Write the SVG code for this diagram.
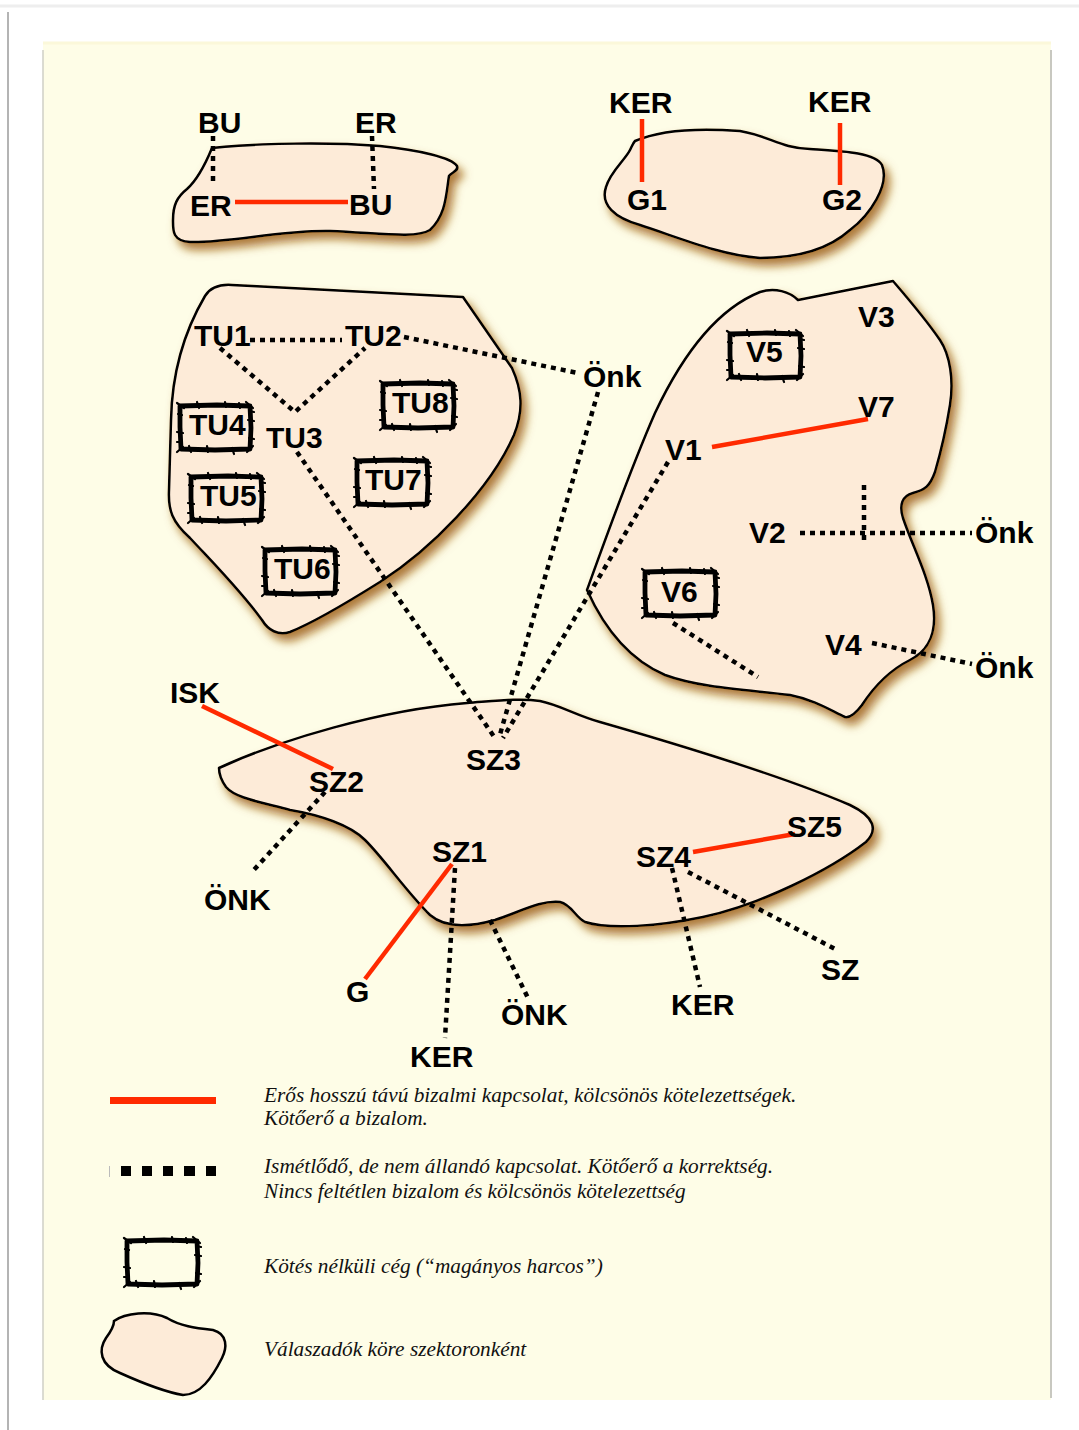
<svg xmlns="http://www.w3.org/2000/svg" width="1079" height="1430" viewBox="0 0 1079 1430">
  <defs>
    <style>
      .lbl { font-family: "Liberation Sans", Arial, sans-serif; font-weight: bold; font-size: 30px; fill: #000; }
      .leg { font-family: "Liberation Serif", "Times New Roman", serif; font-style: italic; font-size: 21.3px; fill: #111; }
      .sector { fill: #FDEBD8; stroke: #000; stroke-width: 2.5; stroke-linejoin: round; }
      .strong { stroke: #FF2A00; stroke-width: 4.5; fill: none; }
      .weak { stroke: #000; stroke-width: 4.5; stroke-dasharray: 5 5; fill: none; }
    </style>
    <filter id="glow" x="-10%" y="-10%" width="130%" height="130%">
      <feDropShadow dx="5" dy="7" stdDeviation="5" flood-color="#9A5A0E" flood-opacity="0.8"/>
    </filter>
    <!-- ragged frame used for isolated firms -->
    <g id="rough">
      <path d="M3,4 L40,3 L73,4 L74,26 L73,47 L38,48 L4,47 L3,25 Z" fill="none" stroke="#000" stroke-width="4.8" stroke-linejoin="round"/>
      <path d="M0,1 L7,6 M69,0 L76,6 M0,50 L6,45 M70,50 L76,44 M20,0 L22,6 M55,46 L57,52 M0,30 L6,31 M71,18 L77,19 M30,44 L31,50 M48,0 L49,5 M1,12 L5,13 M72,36 L77,37 M12,44 L14,50 M62,1 L63,6 M0,40 L5,40 M72,9 L77,10" stroke="#000" stroke-width="2.2" stroke-linecap="round"/>
    </g>
  </defs>

  <!-- page and panel -->
  <rect x="0" y="0" width="1079" height="1430" fill="#FFFFFF"/>
  <line x1="0" y1="6" x2="1079" y2="6" stroke="#EEEEEE" stroke-width="3"/>
  <line x1="8" y1="12" x2="8" y2="1430" stroke="#B4B4B4" stroke-width="2"/>
  <rect x="43" y="43" width="1008" height="1357" fill="#FEFDE7"/>
  <line x1="43" y1="43" x2="1051" y2="43" stroke="#FBF8DA" stroke-width="3"/>
  <line x1="43" y1="50" x2="43" y2="1400" stroke="#CFCFC6" stroke-width="1.5"/>
  <line x1="1051" y1="50" x2="1051" y2="1398" stroke="#C8C8C0" stroke-width="2"/>

  <!-- sector outlines -->
  <g id="sectors" filter="url(#glow)">
    <path id="sector-bu-er" class="sector" d="M212,148 C260,143 330,142 380,146 C420,150 452,158 457,166 C459,171 452,172 449,176 C446,195 446,215 430,230 C415,239 380,233 330,231 C280,230 230,243 190,242 C172,241 173,230 173,220 C173,205 177,197 187,189 C197,180 205,165 212,148 Z"/>
    <path id="sector-g" class="sector" d="M635,141 C660,130 700,128 740,131 C770,136 780,148 810,149 C840,151 875,152 882,165 C890,185 870,215 850,230 C830,248 800,258 760,258 C720,255 680,238 640,225 C615,218 600,205 606,187 C610,172 625,160 630,150 C632,146 633,143 635,141 Z"/>
    <path id="sector-tu" class="sector" d="M205,296 C210,288 218,284 232,285 L463,297 L512,368 C522,390 524,410 514,435 C490,490 430,550 380,582 C345,604 310,624 290,632 C278,636 268,630 262,620 C240,590 215,565 190,538 C172,522 168,510 169,490 L171,420 C172,370 185,330 205,296 Z"/>
    <path id="sector-v" class="sector" d="M893,281 C905,295 925,318 940,340 C950,355 954,380 950,405 C946,430 940,455 935,472 C930,486 925,490 913,493 C902,496 899,505 903,518 C912,545 928,575 933,605 C937,630 930,650 910,660 C890,670 875,685 862,705 C856,713 850,718 845,717 C830,710 815,700 790,695 C750,690 700,688 665,675 C630,660 605,630 587,590 C605,540 630,470 655,413 C680,360 715,310 760,292 C775,287 790,292 798,300 L893,281 Z"/>
    <path id="sector-sz" class="sector" d="M219,768 C280,740 380,710 467,703 C495,701 520,698 540,701 C560,705 575,715 600,722 C680,745 780,775 850,805 C875,817 878,830 866,842 C830,870 760,905 703,917 C660,926 610,930 585,922 C575,917 572,905 560,902 C540,900 520,912 495,920 C470,927 445,928 430,915 C405,890 385,860 365,840 C350,825 320,815 290,810 C260,802 235,798 226,787 C221,780 219,773 219,768 Z"/>
  </g>

  <!-- ties -->
  <g id="connectors">
    <line class="strong" x1="235" y1="202" x2="348" y2="202"/>
    <line class="strong" x1="642" y1="119" x2="642" y2="182"/>
    <line class="strong" x1="840" y1="123" x2="840" y2="185"/>
    <line class="strong" x1="712" y1="447" x2="868" y2="419"/>
    <line class="strong" x1="202" y1="706" x2="333" y2="769"/>
    <line class="strong" x1="452" y1="864" x2="365" y2="979"/>
    <line class="strong" x1="693" y1="852" x2="795" y2="834"/>

    <line class="weak" x1="213" y1="136" x2="213" y2="183"/>
    <line class="weak" x1="372" y1="136" x2="374" y2="189"/>
    <line class="weak" x1="250" y1="340" x2="342" y2="340"/>
    <polyline class="weak" points="220,348 295,412 365,348"/>
    <line class="weak" x1="404" y1="337" x2="578" y2="373"/>
    <line class="weak" x1="297" y1="452" x2="495" y2="738"/>
    <line class="weak" x1="598" y1="392" x2="499" y2="738"/>
    <line class="weak" x1="668" y1="462" x2="503" y2="738"/>
    <line class="weak" x1="800" y1="533" x2="972" y2="533"/>
    <line class="weak" x1="864" y1="485" x2="864" y2="540"/>
    <line class="weak" x1="872" y1="643" x2="972" y2="664"/>
    <line class="weak" x1="673" y1="623" x2="758" y2="677"/>
    <line class="weak" x1="325" y1="792" x2="252" y2="872"/>
    <line class="weak" x1="455" y1="868" x2="445" y2="1038"/>
    <line class="weak" x1="490" y1="920" x2="528" y2="998"/>
    <line class="weak" x1="672" y1="868" x2="700" y2="987"/>
    <line class="weak" x1="688" y1="872" x2="837" y2="950"/>
  </g>

  <!-- actors: BU / ER sector -->
  <g id="n-bu-top"><text class="lbl" x="198" y="133">BU</text></g>
  <g id="n-er-top"><text class="lbl" x="355" y="133">ER</text></g>
  <g id="n-er"><text class="lbl" x="190" y="216">ER</text></g>
  <g id="n-bu"><text class="lbl" x="349" y="215">BU</text></g>

  <!-- G sector -->
  <g id="n-ker-1"><text class="lbl" x="609" y="113">KER</text></g>
  <g id="n-ker-2"><text class="lbl" x="808" y="112">KER</text></g>
  <g id="n-g1"><text class="lbl" x="627" y="210">G1</text></g>
  <g id="n-g2"><text class="lbl" x="822" y="210">G2</text></g>

  <!-- TU sector -->
  <g id="n-tu1"><text class="lbl" x="194" y="346">TU1</text></g>
  <g id="n-tu2"><text class="lbl" x="345" y="346">TU2</text></g>
  <g id="n-tu3"><text class="lbl" x="266" y="448">TU3</text></g>
  <g id="n-tu4"><use href="#rough" x="177" y="402"/><text class="lbl" x="189" y="435">TU4</text></g>
  <g id="n-tu5"><use href="#rough" x="188" y="473"/><text class="lbl" x="200" y="506">TU5</text></g>
  <g id="n-tu6"><use href="#rough" x="262" y="546"/><text class="lbl" x="274" y="579">TU6</text></g>
  <g id="n-tu7"><use href="#rough" x="354" y="457"/><text class="lbl" x="365" y="490">TU7</text></g>
  <g id="n-tu8"><use href="#rough" x="380" y="380"/><text class="lbl" x="392" y="413">TU8</text></g>
  <g id="n-onk-tu"><text class="lbl" x="583" y="387">Önk</text></g>

  <!-- V sector -->
  <g id="n-v3"><text class="lbl" x="858" y="327">V3</text></g>
  <g id="n-v5"><use href="#rough" x="727" y="330"/><text class="lbl" x="746" y="362">V5</text></g>
  <g id="n-v7"><text class="lbl" x="858" y="417">V7</text></g>
  <g id="n-v1"><text class="lbl" x="665" y="460">V1</text></g>
  <g id="n-v2"><text class="lbl" x="749" y="543">V2</text></g>
  <g id="n-onk-v2"><text class="lbl" x="975" y="543">Önk</text></g>
  <g id="n-v6"><use href="#rough" x="642" y="568"/><text class="lbl" x="661" y="602">V6</text></g>
  <g id="n-v4"><text class="lbl" x="825" y="655">V4</text></g>
  <g id="n-onk-v4"><text class="lbl" x="975" y="678">Önk</text></g>

  <!-- SZ sector -->
  <g id="n-isk"><text class="lbl" x="170" y="703">ISK</text></g>
  <g id="n-sz2"><text class="lbl" x="309" y="792">SZ2</text></g>
  <g id="n-sz3"><text class="lbl" x="466" y="770">SZ3</text></g>
  <g id="n-sz1"><text class="lbl" x="432" y="862">SZ1</text></g>
  <g id="n-sz4"><text class="lbl" x="636" y="867">SZ4</text></g>
  <g id="n-sz5"><text class="lbl" x="787" y="837">SZ5</text></g>
  <g id="n-onk-sz2"><text class="lbl" x="204" y="910">ÖNK</text></g>
  <g id="n-g"><text class="lbl" x="346" y="1002">G</text></g>
  <g id="n-ker-sz1"><text class="lbl" x="410" y="1067">KER</text></g>
  <g id="n-onk-sz"><text class="lbl" x="501" y="1025">ÖNK</text></g>
  <g id="n-ker-sz4"><text class="lbl" x="671" y="1015">KER</text></g>
  <g id="n-sz"><text class="lbl" x="821" y="980">SZ</text></g>

  <!-- key -->
  <g id="legend">
    <rect x="110" y="1097" width="106" height="7" fill="#FF2A00"/>
    <line x1="109.5" y1="1166" x2="109.5" y2="1177" stroke="#BBBBBB" stroke-width="1"/>
    <g fill="#000">
      <rect x="121" y="1166" width="10" height="10"/>
      <rect x="142" y="1166" width="10" height="10"/>
      <rect x="163" y="1166" width="10" height="10"/>
      <rect x="184" y="1166" width="11" height="10"/>
      <rect x="206" y="1166" width="10" height="10"/>
    </g>
    <use href="#rough" x="124" y="1237"/>
    <path d="M114,1321 C125,1313 150,1310 167,1318 C180,1326 195,1328 213,1330 C228,1334 227,1348 222,1358 C212,1378 200,1395 183,1395 C165,1392 140,1382 120,1373 C100,1365 98,1350 106,1338 C112,1330 114,1326 114,1321 Z" fill="#FDEBD8" stroke="#000" stroke-width="2.5"/>
    <text class="leg" x="264" y="1102">Erős hosszú távú bizalmi kapcsolat, kölcsönös kötelezettségek.</text>
    <text class="leg" x="264" y="1125">Kötőerő a bizalom.</text>
    <text class="leg" x="264" y="1173">Ismétlődő, de nem állandó kapcsolat. Kötőerő a korrektség.</text>
    <text class="leg" x="264" y="1198">Nincs feltétlen bizalom és kölcsönös kötelezettség</text>
    <text class="leg" x="264" y="1273">Kötés nélküli cég (“magányos harcos”)</text>
    <text class="leg" x="264" y="1356">Válaszadók köre szektoronként</text>
  </g>
</svg>
